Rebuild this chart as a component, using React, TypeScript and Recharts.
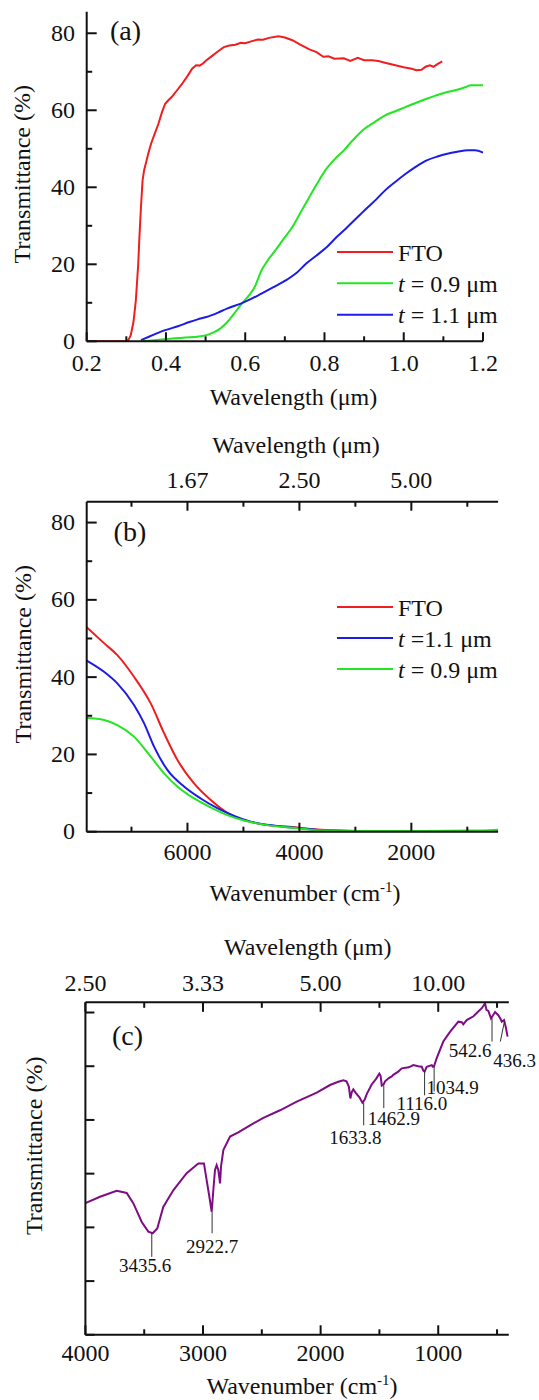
import React from 'react';
import { LineChart, Line, XAxis, YAxis, Legend, ReferenceLine } from 'recharts';

const FONT = '"Liberation Serif", "Times New Roman", Times, serif';
const INK = '#111111';
const FS = 24;

// ---------- (a) transmittance vs wavelength (µm)
const UV_FTO_WL = [0.2, 0.3, 0.305, 0.311, 0.318, 0.324, 0.33, 0.333, 0.337, 0.341, 0.345, 0.35, 0.356, 0.363, 0.372, 0.381, 0.39, 0.398, 0.406, 0.415, 0.428, 0.441, 0.455, 0.466, 0.476, 0.485, 0.494, 0.502, 0.515, 0.53, 0.546, 0.56, 0.575, 0.589, 0.6, 0.615, 0.632, 0.645, 0.66, 0.684, 0.7, 0.719, 0.74, 0.762, 0.78, 0.797, 0.81, 0.825, 0.849, 0.865, 0.884, 0.9, 0.92, 0.936, 0.955, 0.979, 1.0, 1.02, 1.032, 1.045, 1.055, 1.066, 1.075, 1.085, 1.097];
const UV_FTO_T = [0, 0, 0.3, 1.5, 5, 10.6, 20, 27, 35, 41.8, 44.5, 46.5, 49, 51.5, 54, 56.5, 59.5, 61.7, 62.6, 63.5, 65.2, 66.9, 69, 70.8, 71.7, 71.6, 72.2, 73, 74, 75.2, 76.4, 76.8, 77, 77.5, 77.4, 77.9, 78.4, 78.3, 78.8, 79.2, 78.9, 78.2, 77, 75.8, 75.1, 73.9, 74, 73.4, 73.5, 72.8, 73.6, 73, 73, 72.8, 72.3, 71.7, 71.2, 70.8, 70.4, 70.5, 71.3, 71.7, 71.3, 72, 72.7];

const UV_09_WL = [0.341, 0.37, 0.4, 0.45, 0.48, 0.502, 0.52, 0.537, 0.555, 0.572, 0.59, 0.61, 0.624, 0.641, 0.658, 0.676, 0.697, 0.719, 0.74, 0.762, 0.78, 0.802, 0.825, 0.849, 0.875, 0.901, 0.925, 0.953, 0.98, 1.005, 1.03, 1.058, 1.08, 1.101, 1.13, 1.153, 1.17, 1.2];
const UV_09_T = [0, 0.3, 0.6, 1.0, 1.2, 1.6, 2.3, 3.3, 5.0, 7.2, 9.6, 12.0, 14.1, 18.4, 21.2, 23.6, 26.6, 29.7, 33.5, 37.5, 40.7, 44.4, 47.2, 49.6, 52.6, 55.2, 56.8, 58.7, 59.8, 60.9, 61.9, 63.0, 63.8, 64.5, 65.2, 65.9, 66.5, 66.5];

const UV_11_WL = [0.337, 0.36, 0.38, 0.398, 0.43, 0.459, 0.48, 0.502, 0.53, 0.554, 0.589, 0.615, 0.641, 0.67, 0.702, 0.73, 0.754, 0.78, 0.806, 0.83, 0.858, 0.885, 0.91, 0.93, 0.953, 0.98, 1.005, 1.03, 1.058, 1.085, 1.11, 1.135, 1.162, 1.18, 1.2];
const UV_11_T = [0.3, 1.3, 2.2, 2.9, 3.9, 5.0, 5.7, 6.3, 7.4, 8.5, 9.8, 11.0, 12.4, 14.0, 15.8, 17.8, 20.2, 22.3, 24.5, 27.0, 29.7, 32.4, 34.9, 36.8, 39.2, 41.5, 43.5, 45.3, 47.0, 48.0, 48.7, 49.2, 49.6, 49.6, 49.0];

const UV_X_TICKS = [0.2, 0.3, 0.4, 0.5, 0.6, 0.7, 0.8, 0.9, 1.0, 1.1, 1.2];
const UV_X_MAJOR = [0.2, 0.4, 0.6, 0.8, 1.0, 1.2];
const T_TICKS = [0, 10, 20, 30, 40, 50, 60, 70, 80];
const T_MAJOR = [0, 20, 40, 60, 80];

// ---------- (b) transmittance vs wavenumber (cm-1)
const NIR_FTO_NU = [7800, 7491, 7253, 6955, 6656, 6418, 6181, 5882, 5584, 5287, 4989, 4572, 4036, 3800, 3600, 3300, 3000, 2000, 1000, 450];
const NIR_FTO_T = [52.9, 48.8, 45.7, 40.1, 33.2, 25.5, 18.6, 12.5, 8.2, 4.9, 3.0, 1.7, 1.1, 0.7, 0.5, 0.3, 0.2, 0.2, 0.2, 0.2];
const NIR_11_NU = [7800, 7491, 7253, 6955, 6776, 6597, 6359, 6061, 5763, 5466, 5167, 4869, 4393, 3975, 3700, 3500, 3000, 2000, 1000, 450];
const NIR_11_T = [44.3, 41.4, 38.4, 32.8, 28.1, 22.0, 16.0, 11.7, 8.6, 6.1, 4.1, 2.6, 1.5, 0.9, 0.5, 0.3, 0.2, 0.2, 0.2, 0.2];
const NIR_09_NU = [7800, 7491, 7253, 6955, 6656, 6418, 6181, 5882, 5584, 5287, 4989, 4572, 4036, 3800, 3500, 3000, 2000, 1000, 600, 450];
const NIR_09_T = [29.4, 28.9, 27.6, 24.6, 19.4, 15.1, 11.7, 8.6, 6.3, 4.3, 2.9, 1.7, 0.9, 0.5, 0.3, 0.2, 0.2, 0.3, 0.4, 0.5];

const NIR_X_TICKS = [7000, 6000, 5000, 4000, 3000, 2000, 1000];
const NIR_X_MAJOR = [6000, 4000, 2000];

// ---------- (c) FTIR spectrum (arbitrary transmittance)
const IR_NU = [4000, 3876, 3734, 3649, 3593, 3521, 3465, 3428, 3389, 3338, 3253, 3139, 3040, 2992, 2969, 2946, 2926, 2912, 2898, 2884, 2870, 2855, 2847, 2827, 2770, 2700, 2600, 2487, 2345, 2203, 2033, 1920, 1850, 1807, 1780, 1760, 1747, 1735, 1722, 1700, 1670, 1645, 1625, 1608, 1566, 1530, 1501, 1490, 1480, 1465, 1452, 1420, 1395, 1382, 1340, 1310, 1250, 1212, 1170, 1140, 1127, 1116, 1098, 1055, 1045, 1036, 1013, 957, 900, 829, 800, 787, 758, 700, 673, 630, 602, 590, 574, 551, 517, 489, 470, 460, 440, 425, 418, 410];
const IR_T = [2.45, 2.57, 2.68, 2.64, 2.45, 2.10, 1.92, 1.89, 1.98, 2.38, 2.69, 3.01, 3.19, 3.19, 2.88, 2.57, 2.29, 2.70, 3.07, 3.16, 3.07, 2.82, 3.13, 3.44, 3.69, 3.77, 3.90, 4.04, 4.18, 4.34, 4.51, 4.65, 4.71, 4.74, 4.72, 4.62, 4.40, 4.52, 4.57, 4.50, 4.42, 4.32, 4.38, 4.48, 4.66, 4.76, 4.86, 4.82, 4.64, 4.66, 4.72, 4.78, 4.81, 4.84, 4.90, 4.96, 4.98, 5.02, 5.00, 4.99, 4.92, 4.90, 4.99, 5.02, 4.99, 5.00, 5.15, 5.46, 5.64, 5.83, 5.82, 5.78, 5.86, 5.93, 5.99, 6.08, 6.17, 6.05, 6.03, 5.89, 6.01, 5.95, 5.88, 5.83, 5.86, 5.72, 5.64, 5.55];

const IR_X_TICKS = [4000, 3500, 3000, 2500, 2000, 1500, 1000, 500];
const IR_X_MAJOR = [4000, 3000, 2000, 1000];
const IR_Y_TICKS = [0, 1, 2, 3, 4, 5, 6];

const IR_PEAKS = [3435.6, 2922.7, 1633.8, 1462.9, 1116.0, 1034.9, 542.6, 436.3];
const IR_PEAK_LABELS = ['3435.6', '2922.7', '1633.8', '1462.9', '1116.0', '1034.9', '542.6', '436.3'];

// marker line extents (top y, foot y, foot x) and label offsets from the line foot
const PEAK_SPAN: [number, number, number][] = [
  [1.89, 1.45, 3435.6],
  [2.29, 1.89, 2922.7],
  [4.33, 3.9, 1633.8],
  [4.64, 4.22, 1462.9],
  [4.92, 4.46, 1116.0],
  [5.0, 4.53, 1034.9],
  [5.89, 5.46, 542.6],
  [5.84, 5.46, 472],
];
const PEAK_LABEL_OFFSET: [number, number][] = [
  [-6.7, 15], [0, 20], [-8.4, 18.3], [10, 16.7], [-2.7, 15], [18.5, 2.6], [-21.8, 15], [14.4, 25.2],
];

const zip = (xs: number[], ys: number[]) => xs.map((x, i) => ({ x, y: ys[i] }));

type TickCfg = {
  side: 'bottom' | 'top' | 'left';
  majors: number[] | null;
  majorLen: number;
  minorLen: number;
  gap: number;
  fmt?: (v: number) => string;
  noLabels?: boolean;
};

const makeTick = (cfg: TickCfg) => (props: any) => {
  const { x, y, payload } = props;
  const v = payload.value;
  const isMajor = !cfg.majors || cfg.majors.some((m) => Math.abs(m - v) < 1e-6);
  const len = isMajor ? cfg.majorLen : cfg.minorLen;
  const label = isMajor && !cfg.noLabels ? (cfg.fmt ? cfg.fmt(v) : String(v)) : null;
  const txt = { fontFamily: FONT, fontSize: FS, fill: INK };
  if (cfg.side === 'bottom') {
    return (
      <g>
        <line x1={x} x2={x} y1={y} y2={y - len} stroke={INK} strokeWidth={2} />
        {label && <text x={x} y={y + cfg.gap} textAnchor="middle" {...txt}>{label}</text>}
      </g>
    );
  }
  if (cfg.side === 'top') {
    return (
      <g>
        <line x1={x} x2={x} y1={y} y2={y + len} stroke={INK} strokeWidth={2} />
        {label && <text x={x} y={y - cfg.gap} textAnchor="middle" {...txt}>{label}</text>}
      </g>
    );
  }
  return (
    <g>
      <line x1={x} x2={x + len} y1={y} y2={y} stroke={INK} strokeWidth={2} />
      {label && <text x={x - cfg.gap} y={y + 7.5} textAnchor="end" {...txt}>{label}</text>}
    </g>
  );
};

const axisLine = { stroke: INK, strokeWidth: 2 };
const wl = (v: number) => (10000 / v).toFixed(2);

const textProps = { fontFamily: FONT, fontSize: FS, fill: INK };

const yTitle = (x: number, y: number, letter: string, lx: number, ly: number) => () => (
  <g>
    <text x={x} y={y} transform={`rotate(-90 ${x} ${y})`} textAnchor="middle" {...textProps}>
      Transmittance (%)
    </text>
    <text x={lx} y={ly} {...textProps} fontSize={28}>{letter}</text>
  </g>
);

const wavelengthTitle = (x: number, y: number) => () => (
  <text x={x} y={y} textAnchor="middle" {...textProps}>Wavelength (μm)</text>
);

const wavenumberTitle = (x: number, y: number) => () => (
  <text x={x} y={y} textAnchor="middle" {...textProps}>
    Wavenumber (cm<tspan dy={-9} fontSize={15}>-1</tspan><tspan dy={9}>)</tspan>
  </text>
);

const legendName = (name: string) => {
  if (name.startsWith('t ')) {
    return (
      <>
        <tspan fontStyle="italic">t</tspan>
        <tspan>{name.slice(1)}</tspan>
      </>
    );
  }
  return name;
};

// legend rows in the order given by `order`
const legendContent = (gap: number, order: string[]) => (props: any) => {
  const raw = props.payload || [];
  const items = order.map((n) => raw.find((it: any) => it.value === n)).filter(Boolean);
  return (
    <svg width={210} height={30 + gap * items.length} style={{ overflow: 'visible' }}>
      {items.map((it: any, i: number) => {
        const cy = 15 + i * gap;
        return (
          <g key={i}>
            <line x1={0} x2={56} y1={cy} y2={cy} stroke={it.color} strokeWidth={2} />
            <text x={61} y={cy + 8.5} {...textProps}>{legendName(String(it.value))}</text>
          </g>
        );
      })}
    </svg>
  );
};

const RED = '#f01e1e';
const GREEN = '#22e622';
const BLUE = '#1c1ce6';
const PURPLE = '#7e0c84';

const UV_NAMES = ['FTO', 't = 0.9 μm', 't = 1.1 μm'];
const NIR_NAMES = ['FTO', 't =1.1 μm', 't = 0.9 μm'];

function PanelA() {
  return (
    <LineChart width={539} height={420} margin={{ top: 11.7, right: 56, bottom: 77.7, left: 85.7 }}>
      <XAxis
        type="number" dataKey="x" domain={[0.2, 1.2]} allowDataOverflow ticks={UV_X_TICKS} interval={0}
        height={1} tickSize={0} tickMargin={0} tickLine={false} axisLine={axisLine}
        tick={makeTick({ side: 'bottom', majors: UV_X_MAJOR, majorLen: 9, minorLen: 5, gap: 29.4, fmt: (v) => v.toFixed(1) })}
        label={{ content: wavelengthTitle(293.4, 405) }}
      />
      <YAxis
        type="number" domain={[0, 85.6]} allowDataOverflow ticks={T_TICKS} interval={0}
        width={1} tickSize={0} tickMargin={0} tickLine={false} axisLine={axisLine}
        tick={makeTick({ side: 'left', majors: T_MAJOR, majorLen: 10, minorLen: 5.5, gap: 11.7 })}
        label={{ content: yTitle(30, 174.2, '(a)', 110, 40) }}
      />
      <Line data={zip(UV_FTO_WL, UV_FTO_T)} dataKey="y" name={UV_NAMES[0]} stroke={RED} strokeWidth={2} dot={false} type="linear" isAnimationActive={false} />
      <Line data={zip(UV_09_WL, UV_09_T)} dataKey="y" name={UV_NAMES[1]} stroke={GREEN} strokeWidth={2} dot={false} type="monotone" isAnimationActive={false} />
      <Line data={zip(UV_11_WL, UV_11_T)} dataKey="y" name={UV_NAMES[2]} stroke={BLUE} strokeWidth={2} dot={false} type="monotone" isAnimationActive={false} />
      <Legend layout="vertical" align="center" verticalAlign="middle" content={legendContent(31.35, UV_NAMES)}
        wrapperStyle={{ left: 336.7, top: 237.3, width: 210, height: 110 }} />
    </LineChart>
  );
}

function PanelB() {
  return (
    <LineChart width={539} height={492} margin={{ top: 80.7, right: 40.9, bottom: 79.3, left: 85.7 }}>
      <XAxis
        type="number" dataKey="x" domain={[450, 7800]} reversed allowDataOverflow ticks={NIR_X_TICKS} interval={0}
        height={1} tickSize={0} tickMargin={0} tickLine={false} axisLine={axisLine}
        tick={makeTick({ side: 'bottom', majors: NIR_X_MAJOR, majorLen: 9, minorLen: 5, gap: 28.3 })}
        label={{ content: wavenumberTitle(305, 480.7) }}
      />
      <XAxis
        xAxisId="top" orientation="top" type="number" dataKey="x" domain={[450, 7800]} reversed allowDataOverflow
        ticks={NIR_X_TICKS} interval={0} height={1} tickSize={0} tickMargin={0} tickLine={false} axisLine={axisLine}
        tick={makeTick({ side: 'top', majors: NIR_X_MAJOR, majorLen: 9, minorLen: 5, gap: 13.4, fmt: wl })}
        label={{ content: wavelengthTitle(296, 33.3) }}
      />
      <YAxis
        type="number" domain={[0, 85.4]} allowDataOverflow ticks={T_TICKS} interval={0}
        width={1} tickSize={0} tickMargin={0} tickLine={false} axisLine={axisLine}
        tick={makeTick({ side: 'left', majors: T_MAJOR, majorLen: 10, minorLen: 5.5, gap: 11.7 })}
        label={{ content: yTitle(31, 234.2, '(b)', 113.6, 120.7) }}
      />
      <Line data={zip(NIR_FTO_NU, NIR_FTO_T)} dataKey="y" name={NIR_NAMES[0]} stroke={RED} strokeWidth={2} dot={false} type="monotone" isAnimationActive={false} />
      <Line data={zip(NIR_11_NU, NIR_11_T)} dataKey="y" name={NIR_NAMES[1]} stroke={BLUE} strokeWidth={2} dot={false} type="monotone" isAnimationActive={false} />
      <Line data={zip(NIR_09_NU, NIR_09_T)} dataKey="y" name={NIR_NAMES[2]} stroke={GREEN} strokeWidth={2} dot={false} type="monotone" isAnimationActive={false} />
      <Legend layout="vertical" align="center" verticalAlign="middle" content={legendContent(31, NIR_NAMES)}
        wrapperStyle={{ left: 337.3, top: 172.3, width: 210, height: 110 }} />
    </LineChart>
  );
}

function PanelC() {
  return (
    <LineChart width={539} height={500} margin={{ top: 101.3, right: 30.2, bottom: 64.2, left: 84.4 }}>
      <XAxis
        type="number" dataKey="x" domain={[400, 4000]} reversed allowDataOverflow ticks={IR_X_TICKS} interval={0}
        height={1} tickSize={0} tickMargin={0} tickLine={false} axisLine={axisLine}
        tick={makeTick({ side: 'bottom', majors: IR_X_MAJOR, majorLen: 9.5, minorLen: 5.5, gap: 25.7 })}
        label={{ content: wavenumberTitle(302, 493.5) }}
      />
      <XAxis
        xAxisId="top" orientation="top" type="number" dataKey="x" domain={[400, 4000]} reversed allowDataOverflow
        ticks={IR_X_TICKS} interval={0} height={1} tickSize={0} tickMargin={0} tickLine={false} axisLine={axisLine}
        tick={makeTick({ side: 'top', majors: IR_X_MAJOR, majorLen: 9.5, minorLen: 5.5, gap: 11.6, fmt: wl })}
        label={{ content: wavelengthTitle(307.7, 55) }}
      />
      <YAxis
        type="number" domain={[0, 6.19]} allowDataOverflow ticks={IR_Y_TICKS} interval={0}
        width={1} tickSize={0} tickMargin={0} tickLine={false} axisLine={axisLine}
        tick={makeTick({ side: 'left', majors: null, majorLen: 9, minorLen: 9, gap: 10, noLabels: true })}
        label={{ content: yTitle(42, 245.8, '(c)', 111.9, 145) }}
      />
      <Line data={zip(IR_NU, IR_T)} dataKey="y" stroke={PURPLE} strokeWidth={2} dot={false} type="linear" isAnimationActive={false} />
      {IR_PEAKS.map((nu, i) => {
        const [yTop, yFoot, nuFoot] = PEAK_SPAN[i];
        const [dx, dy] = PEAK_LABEL_OFFSET[i];
        return (
          <ReferenceLine
            key={nu}
            segment={[{ x: nu, y: yTop }, { x: nuFoot, y: yFoot }]}
            stroke="#333333"
            strokeWidth={1}
            ifOverflow="visible"
            label={{
              content: (p: any) => {
                const vb = p.viewBox || { x: 0, y: 0, height: 0 };
                return (
                  <text x={vb.x + dx} y={vb.y + vb.height + dy} textAnchor="middle" fontFamily={FONT} fontSize={19} fill={INK}>
                    {IR_PEAK_LABELS[i]}
                  </text>
                );
              },
            }}
          />
        );
      })}
    </LineChart>
  );
}

export default function App() {
  return (
    <div style={{ position: 'absolute', left: 0, top: 0, width: 539, height: 1400, background: '#fff' }}>
      <div style={{ position: 'absolute', left: 0, top: 0 }}>
        <PanelA />
      </div>
      <div style={{ position: 'absolute', left: 0, top: 420 }}>
        <PanelB />
      </div>
      <div style={{ position: 'absolute', left: 0, top: 900 }}>
        <PanelC />
      </div>
    </div>
  );
}
